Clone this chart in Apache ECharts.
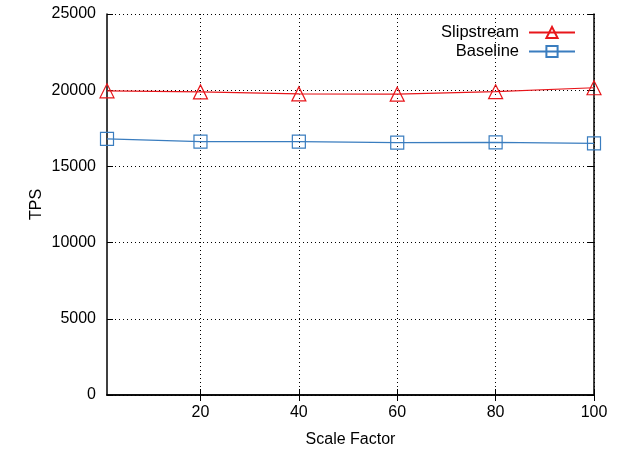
<!DOCTYPE html>
<html><head><meta charset="utf-8">
<script src="https://cdn.jsdelivr.net/npm/echarts@6/dist/echarts.min.js"></script>
<style>html,body{margin:0;padding:0;background:#fff}#c{width:619px;height:453px}</style>
</head><body><div id="c"></div>
<script>
const scaleFactors = [1, 20, 40, 60, 80, 100];
const slipstream = [19960, 19890, 19760, 19740, 19900, 20160];
const baseline = [16800, 16620, 16620, 16560, 16580, 16510];
const xTicks = [20, 40, 60, 80, 100];
const yTicks = [0, 5000, 10000, 15000, 20000, 25000];

const font = 'Liberation Sans, Arial, sans-serif';
const chart = echarts.init(document.getElementById('c'), null, {renderer: 'canvas'});
const dotted = {show: true, lineStyle: {color: '#000', type: [1, 3], width: 1}};
const frame = {show: true, lineStyle: {color: '#000', width: 1.5}};
chart.setOption({
  animation: false,
  textStyle: {fontFamily: font},
  grid: {left: 107, right: 25, top: 14, bottom: 57, containLabel: false},
  legend: {
    top: 19, right: 38, orient: 'vertical', align: 'right', itemGap: 2,
    itemWidth: 46, itemHeight: 14,
    textStyle: {fontFamily: font, fontSize: 16.5, color: '#000', padding: [0, 5, 0, 0]},
    data: ['Slipstream', 'Baseline']
  },
  xAxis: [{
    type: 'value', min: 1, max: 100,
    name: 'Scale Factor', nameLocation: 'middle', nameGap: 37, nameMoveOverlap: false,
    nameTextStyle: {fontFamily: font, fontSize: 16, color: '#000'},
    axisLine: frame,
    axisTick: {show: true, inside: true, length: 6, customValues: xTicks, lineStyle: {color: '#000'}},
    axisLabel: {customValues: xTicks, fontFamily: font, fontSize: 16, color: '#000', margin: 10},
    splitLine: dotted
  }, {
    type: 'value', min: 1, max: 100, position: 'top',
    axisLine: frame,
    axisTick: {show: true, inside: true, length: 6, customValues: xTicks, lineStyle: {color: '#000'}},
    axisLabel: {show: false}, splitLine: {show: false}
  }],
  yAxis: [{
    type: 'value', min: 0, max: 25000, interval: 5000,
    name: 'TPS', nameLocation: 'middle', nameGap: 62, nameMoveOverlap: false,
    nameTextStyle: {fontFamily: font, fontSize: 16, color: '#000'},
    axisLine: frame,
    axisTick: {show: true, inside: true, length: 6, lineStyle: {color: '#000'}},
    axisLabel: {fontFamily: font, fontSize: 16, color: '#000', margin: 11,
      formatter: v => String(v)},
    splitLine: dotted
  }, {
    type: 'value', min: 0, max: 25000, interval: 5000, position: 'right',
    axisLine: frame,
    axisTick: {show: true, inside: true, length: 6, lineStyle: {color: '#000'}},
    axisLabel: {show: false}, splitLine: {show: false}
  }],
  series: [{
    name: 'Slipstream', type: 'line',
    data: scaleFactors.map((x, i) => [x, slipstream[i]]),
    symbol: 'triangle', symbolSize: 14, showSymbol: true,
    itemStyle: {color: 'rgba(255,255,255,0)', borderColor: '#e8161b', borderWidth: 1.2},
    lineStyle: {color: '#e8161b', width: 1.2},
    color: '#e8161b'
  }, {
    name: 'Baseline', type: 'line',
    data: scaleFactors.map((x, i) => [x, baseline[i]]),
    symbol: 'rect', symbolSize: 13,
    itemStyle: {color: 'rgba(255,255,255,0)', borderColor: '#3a7dbf', borderWidth: 1.2},
    lineStyle: {color: '#3a7dbf', width: 1.2},
    color: '#3a7dbf'
  }]
});
</script></body></html>
